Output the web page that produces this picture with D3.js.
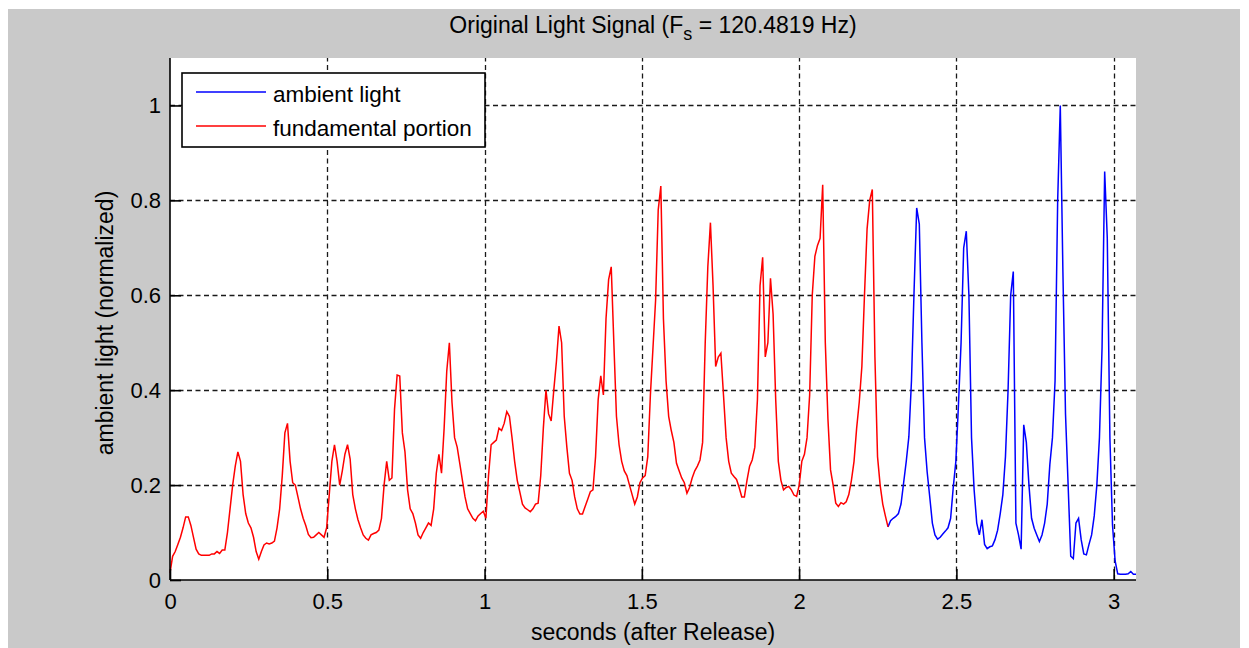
<!DOCTYPE html>
<html>
<head>
<meta charset="utf-8">
<title>Original Light Signal</title>
<script src="https://cdn.jsdelivr.net/npm/d3@7"></script>
<style>
  body { margin: 0; background: #fff; }
  svg text { font-family: "Liberation Sans", Arial, Helvetica, sans-serif; fill: #000; }
</style>
</head>
<body>
<svg id="drawing_region"></svg>
<script>
// sampling rate of the light sensor (Hz)
const FS = 120.4819;

// normalized ambient light, one value per sample
const ambient = [
  0.015, 0.05, 0.06, 0.075, 0.09, 0.11, 0.133, 0.133, 0.115, 0.09,
  0.065, 0.055, 0.052, 0.052, 0.052, 0.052, 0.055, 0.055, 0.06, 0.056,
  0.063, 0.063, 0.10, 0.15, 0.20, 0.24, 0.27, 0.25, 0.18, 0.14,
  0.12, 0.11, 0.09, 0.06, 0.044, 0.06, 0.074, 0.078, 0.076, 0.078,
  0.082, 0.11, 0.15, 0.22, 0.31, 0.33, 0.25, 0.205, 0.20, 0.175,
  0.15, 0.13, 0.115, 0.096, 0.089, 0.09, 0.095, 0.10, 0.095, 0.09,
  0.11, 0.18, 0.25, 0.285, 0.25, 0.20, 0.23, 0.265, 0.285, 0.255,
  0.18, 0.15, 0.127, 0.11, 0.095, 0.088, 0.084, 0.095, 0.098, 0.10,
  0.105, 0.13, 0.20, 0.25, 0.21, 0.215, 0.36, 0.432, 0.43, 0.31,
  0.27, 0.19, 0.15, 0.14, 0.12, 0.095, 0.088, 0.10, 0.11, 0.12,
  0.115, 0.15, 0.225, 0.265, 0.225, 0.32, 0.44, 0.50, 0.375, 0.30,
  0.28, 0.245, 0.21, 0.175, 0.15, 0.14, 0.13, 0.125, 0.135, 0.14,
  0.145, 0.13, 0.22, 0.285, 0.29, 0.295, 0.32, 0.315, 0.33, 0.355,
  0.345, 0.30, 0.25, 0.21, 0.185, 0.16, 0.152, 0.148, 0.144, 0.15,
  0.16, 0.162, 0.22, 0.32, 0.40, 0.35, 0.335, 0.40, 0.46, 0.535,
  0.50, 0.345, 0.28, 0.225, 0.21, 0.175, 0.15, 0.139, 0.139, 0.155,
  0.17, 0.186, 0.19, 0.26, 0.38, 0.43, 0.39, 0.55, 0.633, 0.66,
  0.50, 0.345, 0.285, 0.25, 0.23, 0.22, 0.20, 0.18, 0.16, 0.175,
  0.205, 0.215, 0.22, 0.26, 0.39, 0.49, 0.59, 0.78, 0.83, 0.55,
  0.42, 0.345, 0.315, 0.29, 0.246, 0.23, 0.215, 0.205, 0.183, 0.195,
  0.215, 0.23, 0.24, 0.253, 0.29, 0.50, 0.66, 0.753, 0.62, 0.45,
  0.47, 0.478, 0.39, 0.30, 0.25, 0.225, 0.218, 0.212, 0.195, 0.175,
  0.175, 0.21, 0.24, 0.253, 0.28, 0.38, 0.62, 0.68, 0.47, 0.50,
  0.636, 0.56, 0.38, 0.25, 0.21, 0.19, 0.195, 0.197, 0.19, 0.179,
  0.176, 0.20, 0.25, 0.265, 0.30, 0.39, 0.60, 0.682, 0.705, 0.72,
  0.833, 0.50, 0.34, 0.232, 0.20, 0.162, 0.155, 0.163, 0.16, 0.165,
  0.18, 0.21, 0.25, 0.32, 0.375, 0.45, 0.60, 0.74, 0.80, 0.823,
  0.47, 0.26, 0.20, 0.16, 0.135, 0.112, 0.125, 0.13, 0.134, 0.14,
  0.16, 0.205, 0.25, 0.302, 0.42, 0.61, 0.784, 0.75, 0.50, 0.30,
  0.228, 0.175, 0.12, 0.095, 0.086, 0.09, 0.097, 0.103, 0.11, 0.13,
  0.195, 0.25, 0.37, 0.50, 0.70, 0.735, 0.60, 0.30, 0.19, 0.12,
  0.095, 0.127, 0.075, 0.066, 0.07, 0.072, 0.085, 0.105, 0.14, 0.18,
  0.26, 0.40, 0.60, 0.65, 0.12, 0.095, 0.065, 0.327, 0.29, 0.20,
  0.13, 0.109, 0.095, 0.081, 0.095, 0.12, 0.16, 0.243, 0.30, 0.42,
  0.80, 1.00, 0.65, 0.35, 0.20, 0.05, 0.045, 0.12, 0.13, 0.085,
  0.055, 0.053, 0.075, 0.095, 0.135, 0.20, 0.30, 0.49, 0.861, 0.72,
  0.30, 0.116, 0.04, 0.013, 0.012, 0.012, 0.012, 0.013, 0.018, 0.012,
  0.012
];

// the fundamental portion covers the first samples of the recording
const fundamentalSamples = 276;

const xTicks = [0, 0.5, 1, 1.5, 2, 2.5, 3];
const yTicks = [0, 0.2, 0.4, 0.6, 0.8, 1];

const legendItems = [
  { label: 'ambient light', color: '#0000ff' },
  { label: 'fundamental portion', color: '#ff0000' }
];

const config = {
  parent: '#drawing_region',
  width: 1249,
  height: 648,
  axes: { left: 170, top: 58, right: 1136, bottom: 580 },
  yMax: 1.1
};

const ambientData = ambient.map((v, i) => ({ t: i / FS, v: v }));
const fundamentalData = ambientData.slice(0, fundamentalSamples);
// the red trace sits on top of the blue one, so only the tail of blue shows
const ambientTail = ambientData.slice(fundamentalSamples - 1);

const svg = d3.select(config.parent)
  .attr('width', config.width)
  .attr('height', config.height);

// figure background
svg.append('rect')
  .attr('x', 8).attr('y', 9)
  .attr('width', 1232).attr('height', 639)
  .attr('fill', '#c9c9c9');

const ax = config.axes;

const xscale = d3.scaleLinear()
  .domain([0, (ambient.length - 1) / FS])
  .range([ax.left, ax.right]);

const yscale = d3.scaleLinear()
  .domain([0, config.yMax])
  .range([ax.bottom, ax.top]);

// white plotting area
svg.append('rect')
  .attr('x', ax.left).attr('y', ax.top)
  .attr('width', ax.right - ax.left)
  .attr('height', ax.bottom - ax.top)
  .attr('fill', '#fff');

// dashed grid
const grid = svg.append('g')
  .attr('stroke', '#1a1a1a')
  .attr('stroke-width', 1.3)
  .attr('stroke-dasharray', '5,3.5');

grid.selectAll('.vgrid')
  .data(xTicks.filter(d => d > 0))
  .join('line')
  .attr('x1', d => Math.round(xscale(d)) + 0.5)
  .attr('x2', d => Math.round(xscale(d)) + 0.5)
  .attr('y1', ax.bottom)
  .attr('y2', ax.top);

grid.selectAll('.hgrid')
  .data(yTicks.filter(d => d > 0))
  .join('line')
  .attr('y1', d => Math.round(yscale(d)) + 0.5)
  .attr('y2', d => Math.round(yscale(d)) + 0.5)
  .attr('x1', ax.left)
  .attr('x2', ax.right);

// signal
const line = d3.line()
  .x(d => xscale(d.t))
  .y(d => yscale(d.v));

svg.append('path')
  .datum(ambientTail)
  .attr('fill', 'none')
  .attr('stroke', '#0000ff')
  .attr('stroke-width', 1.5)
  .attr('d', line);

svg.append('path')
  .datum(fundamentalData)
  .attr('fill', 'none')
  .attr('stroke', '#ff0000')
  .attr('stroke-width', 1.5)
  .attr('d', line);

// axes: inward ticks, no box
const xaxis = d3.axisBottom(xscale)
  .tickValues(xTicks)
  .tickFormat(d3.format('~g'))
  .tickSizeInner(-11)
  .tickSizeOuter(0)
  .tickPadding(13);

const yaxis = d3.axisLeft(yscale)
  .tickValues(yTicks)
  .tickFormat(d3.format('~g'))
  .tickSizeInner(-11)
  .tickSizeOuter(0)
  .tickPadding(9);

const xaxis_group = svg.append('g')
  .attr('transform', `translate(0, ${ax.bottom})`)
  .call(xaxis);

const yaxis_group = svg.append('g')
  .attr('transform', `translate(${ax.left}, 0)`)
  .call(yaxis);

[xaxis_group, yaxis_group].forEach(g => {
  g.select('.domain').attr('stroke', '#000').attr('stroke-width', 1.6);
  g.selectAll('.tick line').attr('stroke', '#000').attr('stroke-width', 1.6);
  g.selectAll('.tick text')
    .attr('font-family', '"Liberation Sans", Arial, sans-serif')
    .attr('font-size', 22)
    .attr('fill', '#000');
});
// keep the axis lines spanning the full axes box
xaxis_group.select('.domain').attr('d', `M${ax.left},0H${ax.right}`);
yaxis_group.select('.domain').attr('d', `M0,${ax.bottom}V${ax.top}`);

// title with subscript
const title = svg.append('text')
  .attr('x', (ax.left + ax.right) / 2)
  .attr('y', 33)
  .attr('text-anchor', 'middle')
  .attr('font-size', 23);
title.append('tspan').text('Original Light Signal (F');
title.append('tspan').attr('dy', 7).attr('font-size', 18).text('s');
title.append('tspan').attr('dy', -7).text(' = 120.4819 Hz)');

// axis labels
svg.append('text')
  .attr('x', (ax.left + ax.right) / 2)
  .attr('y', 640)
  .attr('text-anchor', 'middle')
  .attr('font-size', 23)
  .text('seconds (after Release)');

svg.append('text')
  .attr('transform', `translate(113, ${(ax.top + ax.bottom) / 2 + 4}) rotate(-90)`)
  .attr('text-anchor', 'middle')
  .attr('font-size', 23)
  .text('ambient light (normalized)');

// legend
const legend = svg.append('g').attr('transform', 'translate(182, 73)');

legend.append('rect')
  .attr('width', 303)
  .attr('height', 74)
  .attr('fill', '#fff')
  .attr('stroke', '#000')
  .attr('stroke-width', 1.6);

const rows = legend.selectAll('.row')
  .data(legendItems)
  .join('g')
  .attr('transform', (d, i) => `translate(0, ${19 + i * 34})`);

rows.append('line')
  .attr('x1', 14).attr('x2', 84)
  .attr('stroke', d => d.color)
  .attr('stroke-width', 1.5);

rows.append('text')
  .attr('x', 91)
  .attr('dy', '0.45em')
  .attr('font-size', 22.5)
  .text(d => d.label);
</script>
</body>
</html>
